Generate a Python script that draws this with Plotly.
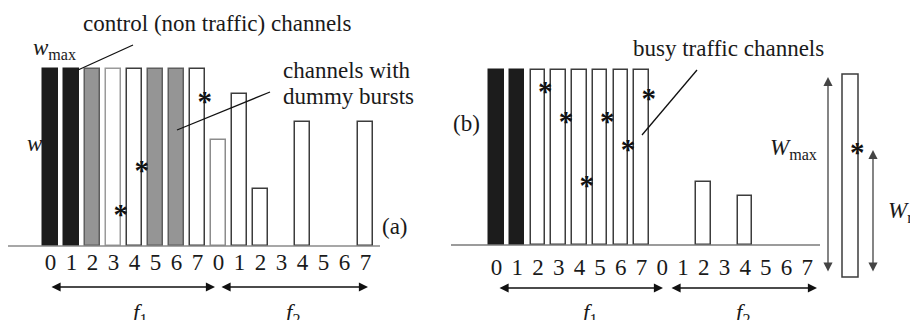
import plotly.graph_objects as go

W, H = 910, 320
def px(x): return x / W
def py(y): return 1 - y / H

# ---------------- data ----------------
slot_labels = ["0", "1", "2", "3", "4", "5", "6", "7"] * 2
slots = list(range(16))

# panel (a): relative burst level (w / w_max) per slot, f1 then f2
a_levels = [1, 1, 1, 1, 1, 1, 1, 1,
            0.60, 0.86, 0.32, None, 0.70, None, None, 0.70]
a_fill = ["#1c1c1c", "#1c1c1c", "#959595", "#ffffff", "#ffffff", "#959595", "#959595", "#ffffff"] + ["#ffffff"] * 8
a_edge = ["#1c1c1c", "#1c1c1c", "#5e5e5e", "#9a9a9a", "#3c3c3c", "#5e5e5e", "#5e5e5e", "#3c3c3c",
          "#8c8c8c", "#3c3c3c", "#3c3c3c", "#3c3c3c", "#3c3c3c", "#3c3c3c", "#3c3c3c", "#3c3c3c"]
a_star_slots = [3, 4, 7]
a_star_levels = [0.20, 0.45, 0.84]

# panel (b)
b_levels = [1, 1, 1, 1, 1, 1, 1, 1,
            None, None, 0.36, None, 0.28, None, None, None]
b_fill = ["#1c1c1c", "#1c1c1c"] + ["#ffffff"] * 14
b_edge = ["#1c1c1c", "#1c1c1c"] + ["#3c3c3c"] * 14
b_star_slots = [2, 3, 4, 5, 6, 7]
b_star_levels = [0.90, 0.73, 0.36, 0.73, 0.57, 0.86]

A_W = 0.68
B_W = 0.70

SERIF = "'Liberation Serif', 'Times New Roman', Times, serif"
TXT = "#1a1a1a"

fig = go.Figure()

fig.add_trace(go.Bar(x=slots, y=a_levels, width=A_W, xaxis="x", yaxis="y",
                     marker=dict(color=a_fill, line=dict(color=a_edge, width=1.5)),
                     showlegend=False, hoverinfo="skip"))
fig.add_trace(go.Bar(x=slots, y=b_levels, width=B_W, xaxis="x2", yaxis="y2",
                     marker=dict(color=b_fill, line=dict(color=b_edge, width=1.5)),
                     showlegend=False, hoverinfo="skip"))

# slot labels
fig.add_trace(go.Scatter(x=slots, y=[-0.102] * 16, text=slot_labels, mode="text",
                         textfont=dict(family=SERIF, size=23, color=TXT),
                         xaxis="x", yaxis="y", showlegend=False, hoverinfo="skip"))
fig.add_trace(go.Scatter(x=slots, y=[-0.137] * 16, text=slot_labels, mode="text",
                         textfont=dict(family=SERIF, size=23, color=TXT),
                         xaxis="x2", yaxis="y2", showlegend=False, hoverinfo="skip"))

# stars (measurement points) at the right edge of bars
STAR_DY = -0.035
STAR_FONT = dict(family=SERIF, size=29, color="#111", weight="bold")
fig.add_trace(go.Scatter(x=[s + A_W / 2 for s in a_star_slots], y=[v + STAR_DY for v in a_star_levels],
                         text=["*"] * len(a_star_slots), mode="text", textfont=STAR_FONT,
                         xaxis="x", yaxis="y", showlegend=False, hoverinfo="skip"))
fig.add_trace(go.Scatter(x=[s + B_W / 2 for s in b_star_slots], y=[v + STAR_DY for v in b_star_levels],
                         text=["*"] * len(b_star_slots), mode="text", textfont=STAR_FONT,
                         xaxis="x2", yaxis="y2", showlegend=False, hoverinfo="skip"))

# ---------------- axes (mapped to the picture) ----------------
fig.update_layout(
    width=W, height=H, margin=dict(l=0, r=0, t=0, b=0),
    paper_bgcolor="white", plot_bgcolor="white",
    xaxis=dict(domain=[0, 0.5], range=[-50.5 / 21, (455 - 50.5) / 21], visible=False, fixedrange=True),
    yaxis=dict(domain=[0, 1], range=[(246 - 320) / 177, 246 / 177], visible=False, fixedrange=True),
    xaxis2=dict(domain=[0.5, 1], range=[(455 - 496.5) / 20.72, (910 - 496.5) / 20.72], visible=False,
                fixedrange=True, anchor="y2"),
    yaxis2=dict(domain=[0, 1], range=[(245 - 320) / 175, 245 / 175], visible=False, fixedrange=True,
                anchor="x2"),
    bargap=0,
)

shapes = []
def line(x0, y0, x1, y1, color="#111", width=1.3):
    shapes.append(dict(type="line", xref="paper", yref="paper", x0=px(x0), y0=py(y0), x1=px(x1), y1=py(y1),
                       line=dict(color=color, width=width)))

# baselines
line(8, 246, 380, 246, "#8a8a8a", 1.6)
line(451, 245, 820, 245, "#7a7a7a", 1.6)
# leader lines
line(133, 45, 78, 70)
line(270, 92, 177, 130)
line(697, 70, 642, 135)
# W_max illustration bar
shapes.append(dict(type="rect", xref="paper", yref="paper", x0=px(842), x1=px(858), y0=py(277), y1=py(74),
                   line=dict(color="#3c3c3c", width=1.5), fillcolor="white", layer="below"))

annotations = []
def text(s, x, y, xanchor="left", yanchor="middle", size=23):
    annotations.append(dict(text=s, x=px(x), y=py(y), xref="paper", yref="paper", xanchor=xanchor,
                            yanchor=yanchor, showarrow=False, font=dict(family=SERIF, size=size, color=TXT)))

text("control (non traffic) channels", 81, 24)
text("<i>w</i><sub>max</sub>", 31, 49)
text("<i>w</i>", 25, 143)
text("channels with", 281, 70)
text("dummy bursts", 281, 96)
text("(a)", 380, 226)
text("busy traffic channels", 631, 48)
text("(b)", 451, 123)
text("<i>W</i><sub>max</sub>", 768, 149)
text("<i>W</i><sub>r</sub>", 886, 212)
text("<i>f</i><sub>1</sub>", 140, 298, "center", "top")
text("<i>f</i><sub>2</sub>", 293, 298, "center", "top")
text("<i>f</i><sub>1</sub>", 590, 298, "center", "top")
text("<i>f</i><sub>2</sub>", 743, 298, "center", "top")

def arrow(hx, hy, dx, dy, color="#111"):
    annotations.append(dict(x=px(hx), y=py(hy), xref="paper", yref="paper", ax=dx, ay=dy,
                            axref="pixel", ayref="pixel", text="", showarrow=True,
                            arrowhead=2, arrowside="end+start", arrowsize=1.4, arrowwidth=1.3,
                            arrowcolor=color, standoff=0, startstandoff=0))

arrow(215, 287, -165, 0)
arrow(368, 287, -148, 0)
arrow(663, 288, -165, 0)
arrow(817, 288, -147, 0)
arrow(828, 77, 0, 196, "#444")
arrow(873, 150, 0, 123, "#444")

# star inside the illustration bar
annotations.append(dict(text="*", x=px(857), y=py(152), xref="paper", yref="paper", showarrow=False,
                        xanchor="center", yanchor="middle", font=STAR_FONT))

fig.update_layout(shapes=shapes, annotations=annotations)
fig.write_html("out.html")
